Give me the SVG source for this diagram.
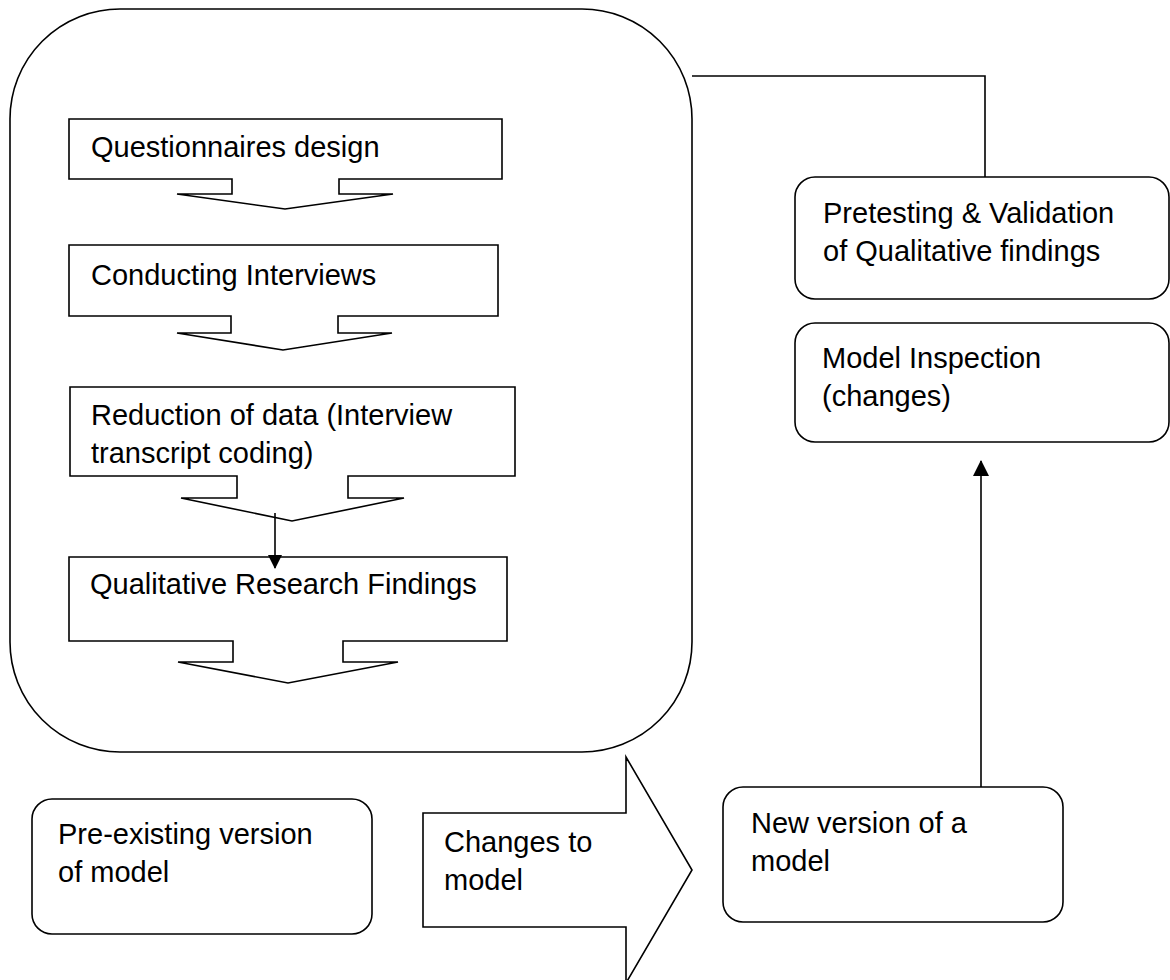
<svg xmlns="http://www.w3.org/2000/svg" width="1170" height="980" viewBox="0 0 1170 980">
<style>
.s{fill:#fff;stroke:#000;stroke-width:1.6}
.l{fill:none;stroke:#000;stroke-width:1.6}
text{font-family:"Liberation Sans",Arial,sans-serif;font-size:29px;fill:#000}
</style>
<defs>
<marker id="ah" markerWidth="14" markerHeight="14" refX="13" refY="7" orient="auto" markerUnits="userSpaceOnUse" viewBox="0 0 14 14">
<path d="M0,0 L14,7 L0,14 z" fill="#000"/>
</marker>
<marker id="ah2" markerWidth="16" markerHeight="16" refX="15" refY="8" orient="auto" markerUnits="userSpaceOnUse" viewBox="0 0 16 16">
<path d="M0,0 L16,8 L0,16 z" fill="#000"/>
</marker>
</defs>
<g id="container">
<rect class="s" x="10" y="9" width="682" height="743" rx="110" ry="110"/>
</g>
<g id="n-questionnaires">
<path class="s" d="M69,119 H502 V179 H339 V194 H393 L285,209 L177,194 H232 V179 H69 Z"/>
<text x="91" y="157">Questionnaires design</text>
</g>
<g id="n-interviews">
<path class="s" d="M69,245 H498 V316 H338 V333 H392 L283,350 L177,333 H231 V316 H69 Z"/>
<text x="91" y="285">Conducting Interviews</text>
</g>
<g id="n-reduction">
<path class="s" d="M70,387 H515 V476 H348 V498 H404 L292,521 L181,498 H237 V476 H70 Z"/>
<text x="91" y="425">Reduction of data (Interview</text>
<text x="91" y="463">transcript coding)</text>
</g>
<g id="n-findings">
<path class="s" d="M69,557 H507 V641 H343 V662 H398 L288,683 L178,662 H233 V641 H69 Z"/>
<text x="90" y="594">Qualitative Research Findings</text>
</g>
<g id="n-pretesting">
<rect class="s" x="795" y="177" width="374" height="122" rx="20" ry="20"/>
<text x="823" y="223">Pretesting &amp; Validation</text>
<text x="823" y="261">of Qualitative findings</text>
</g>
<g id="n-inspection">
<rect class="s" x="795" y="323" width="374" height="119" rx="20" ry="20"/>
<text x="822" y="368">Model Inspection</text>
<text x="822" y="406">(changes)</text>
</g>
<g id="n-preexisting">
<rect class="s" x="32" y="799" width="340" height="135" rx="20" ry="20"/>
<text x="58" y="844">Pre-existing version</text>
<text x="58" y="882">of model</text>
</g>
<g id="n-changes">
<path class="s" d="M423,813 H626 V757 L692,870 L626,983 V927 H423 Z"/>
<text x="444" y="852">Changes to</text>
<text x="444" y="890">model</text>
</g>
<g id="n-newversion">
<rect class="s" x="723" y="787" width="340" height="135" rx="20" ry="20"/>
<text x="751" y="833">New version of a</text>
<text x="751" y="871">model</text>
</g>
<g id="connectors">
<path class="l" d="M692,76 H985 V177"/>
<path class="l" d="M275,513 V568" marker-end="url(#ah)"/>
<path class="l" d="M981,787 V461" marker-end="url(#ah2)"/>
</g>
</svg>
